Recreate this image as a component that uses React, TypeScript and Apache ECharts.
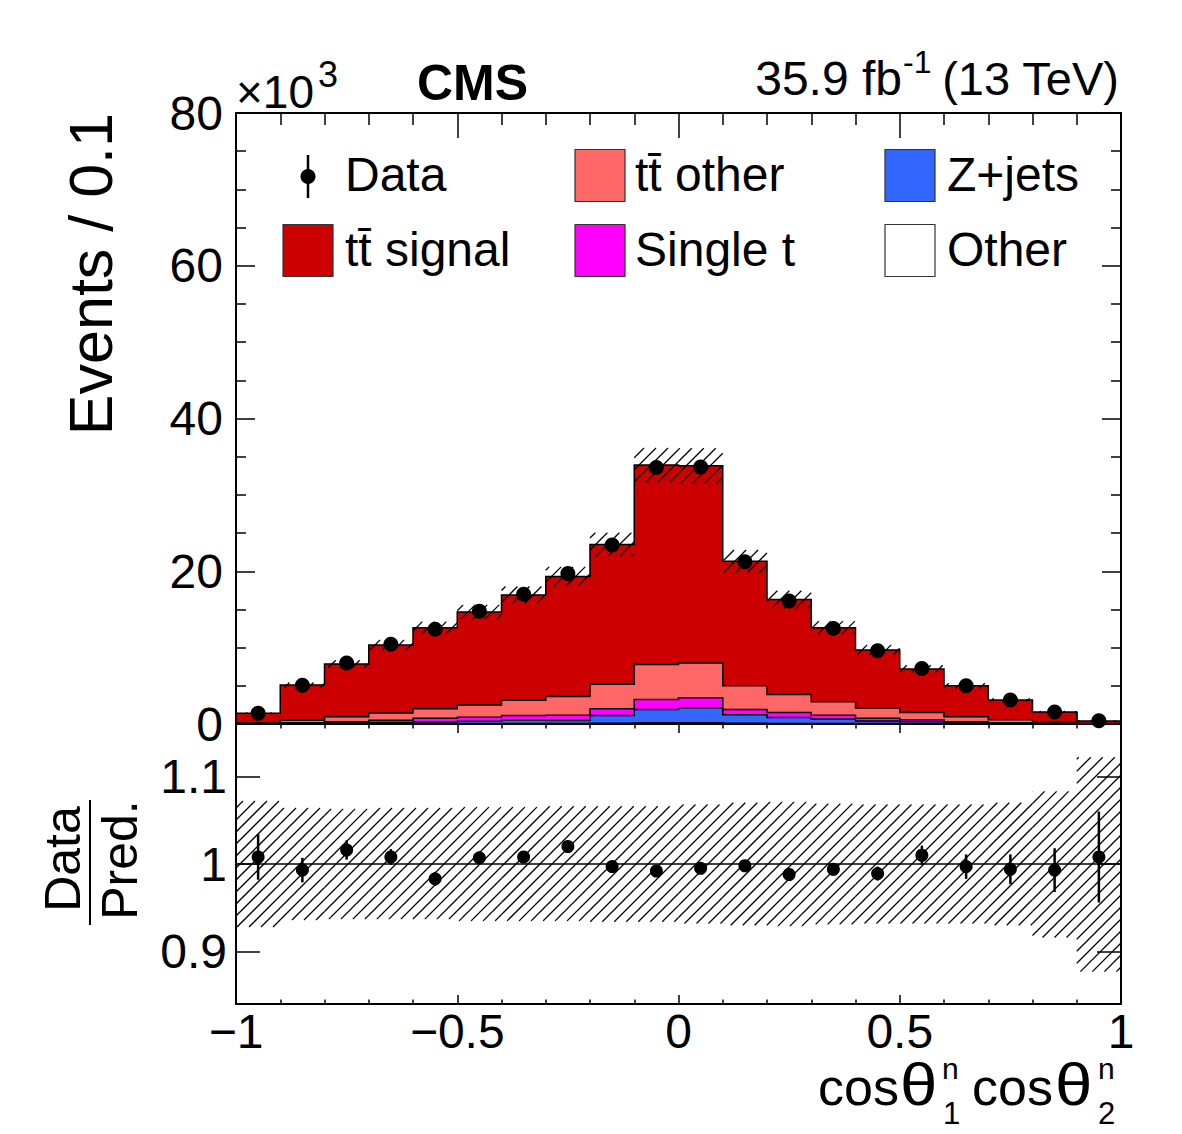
import { useEffect, useRef } from 'react';
import * as echarts from 'echarts';

const FONT = '"Liberation Sans", Arial, Helvetica, sans-serif';

// Bin edges of cos(theta1^n) cos(theta2^n)
const binEdges = [-1, -0.9, -0.8, -0.7, -0.6, -0.5, -0.4, -0.3, -0.2, -0.1, 0, 0.1, 0.2, 0.3, 0.4, 0.5, 0.6, 0.7, 0.8, 0.9, 1];
const binCenters = [-0.95, -0.85, -0.75, -0.65, -0.55, -0.45, -0.35, -0.25, -0.15, -0.05, 0.05, 0.15, 0.25, 0.35, 0.45, 0.55, 0.65, 0.75, 0.85, 0.95];

// Events / 0.1 in units of 10^3
const otherBkg = [0.01, 0.02, 0.03, 0.04, 0.05, 0.06, 0.07, 0.07, 0.1, 0.15, 0.15, 0.1, 0.07, 0.06, 0.05, 0.04, 0.03, 0.02, 0.01, 0.005];
const zJets = [0.02, 0.08, 0.12, 0.16, 0.2, 0.29, 0.43, 0.38, 1.0, 1.75, 1.95, 1.1, 0.78, 0.59, 0.35, 0.26, 0.12, 0.06, 0.03, 0.005];
const singleTop = [0.02, 0.08, 0.15, 0.3, 0.5, 0.55, 0.6, 0.7, 0.9, 1.3, 1.35, 0.7, 0.65, 0.5, 0.35, 0.25, 0.15, 0.1, 0.04, 0.01];
const ttOther = [0.07, 0.32, 0.65, 0.95, 1.25, 1.6, 2.0, 2.45, 3.2, 4.6, 4.55, 3.1, 2.35, 1.75, 1.35, 0.95, 0.65, 0.37, 0.17, 0.03];
const ttSignal = [1.28, 4.6, 6.9, 8.9, 10.6, 12.15, 13.8, 15.7, 18.3, 26.1, 25.8, 16.3, 12.45, 9.7, 7.6, 5.7, 4.05, 2.6, 1.32, 0.35];
const dataEvents = [1.42, 5.07, 7.98, 10.43, 12.4, 14.75, 17.0, 19.7, 23.45, 33.6, 33.65, 21.25, 16.1, 12.52, 9.6, 7.27, 5.0, 3.13, 1.56, 0.41];

// Ratio panel
const ratioValues = [1.008, 0.993, 1.016, 1.008, 0.983, 1.007, 1.008, 1.020, 0.997, 0.992, 0.995, 0.998, 0.988, 0.994, 0.989, 1.010, 0.997, 0.994, 0.993, 1.008];
const ratioErrors = [0.026, 0.014, 0.011, 0.009, 0.008, 0.007, 0.007, 0.006, 0.006, 0.005, 0.005, 0.006, 0.007, 0.007, 0.008, 0.011, 0.014, 0.017, 0.025, 0.052];
const uncUp = [1.072, 1.064, 1.063, 1.064, 1.064, 1.065, 1.065, 1.066, 1.066, 1.066, 1.068, 1.070, 1.071, 1.069, 1.068, 1.068, 1.068, 1.070, 1.083, 1.122];
const uncDown = [0.928, 0.936, 0.937, 0.937, 0.937, 0.935, 0.935, 0.935, 0.934, 0.934, 0.932, 0.930, 0.929, 0.931, 0.932, 0.932, 0.932, 0.930, 0.916, 0.877];

const mainYTicks = { min: 0, max: 80, interval: 20 };
const ratioYTicks = [0.9, 1, 1.1];

const COLORS = {
  signal: '#cc0000',
  ttOther: '#ff6666',
  singleT: '#ff00ff',
  zJets: '#3366ff',
  other: '#ffffff',
};

function hatchLines(L: number, T: number, R: number, B: number, spacing: number, style: any) {
  const children: any[] = [];
  const start = Math.ceil((L + T) / spacing) * spacing;
  for (let c = start; c <= R + B; c += spacing) {
    const xa = Math.max(L, c - B);
    const xb = Math.min(R, c - T);
    if (xb > xa) {
      children.push({ type: 'line', shape: { x1: xa, y1: c - xa, x2: xb, y2: c - xb }, style });
    }
  }
  return children;
}

export default function App() {
  const ref = useRef<HTMLDivElement>(null);

  useEffect(() => {
    if (!ref.current) return;
    const chart = echarts.init(ref.current, null, { renderer: 'svg' });
    const n = binCenters.length;

    const cumOther = otherBkg.slice();
    const cumZ = cumOther.map((v, i) => v + zJets[i]);
    const cumST = cumZ.map((v, i) => v + singleTop[i]);
    const cumTTO = cumST.map((v, i) => v + ttOther[i]);
    const total = cumTTO.map((v, i) => v + ttSignal[i]);

    const stackLevels = [
      { name: 'tt signal', cum: total, color: COLORS.signal, z: 2 },
      { name: 'tt other', cum: cumTTO, color: COLORS.ttOther, z: 3 },
      { name: 'Single t', cum: cumST, color: COLORS.singleT, z: 4 },
      { name: 'Z+jets', cum: cumZ, color: COLORS.zJets, z: 5 },
      { name: 'Other', cum: cumOther, color: COLORS.other, z: 6 },
    ];

    const stackSeries = stackLevels.map((lvl) => ({
      type: 'custom',
      name: lvl.name,
      xAxisIndex: 0,
      yAxisIndex: 0,
      z: lvl.z,
      clip: false,
      silent: true,
      data: [[0, 0]],
      renderItem: (_params: any, api: any) => {
        const pts: number[][] = [];
        pts.push(api.coord([binEdges[0], 0]));
        for (let i = 0; i < n; i++) {
          pts.push(api.coord([binEdges[i], lvl.cum[i]]));
          pts.push(api.coord([binEdges[i + 1], lvl.cum[i]]));
        }
        pts.push(api.coord([binEdges[n], 0]));
        return {
          type: 'polygon',
          shape: { points: pts },
          style: { fill: lvl.color, stroke: '#000', lineWidth: 1.5 },
        };
      },
    }));

    const hatchStyle = { stroke: '#000', lineWidth: 1.3 };

    const mainBand = {
      type: 'custom',
      name: 'Uncertainty',
      xAxisIndex: 0,
      yAxisIndex: 0,
      z: 8,
      silent: true,
      data: binCenters.map((c, i) => [c, total[i]]),
      renderItem: (params: any, api: any) => {
        const i = params.dataIndex;
        const p1 = api.coord([binEdges[i], total[i] * uncUp[i]]);
        const p2 = api.coord([binEdges[i + 1], total[i] * uncDown[i]]);
        return { type: 'group', children: hatchLines(p1[0], p1[1], p2[0], p2[1], 12, hatchStyle) };
      },
    };

    const ratioBand = {
      type: 'custom',
      name: 'Ratio uncertainty',
      xAxisIndex: 2,
      yAxisIndex: 2,
      z: 3,
      silent: true,
      data: binCenters.map((c) => [c, 1]),
      renderItem: (params: any, api: any) => {
        const i = params.dataIndex;
        const p1 = api.coord([binEdges[i], uncUp[i]]);
        const p2 = api.coord([binEdges[i + 1], uncDown[i]]);
        return { type: 'group', children: hatchLines(p1[0], p1[1], p2[0], p2[1], 12, hatchStyle) };
      },
    };

    const unityLine = {
      type: 'custom',
      name: 'Unity',
      xAxisIndex: 2,
      yAxisIndex: 2,
      z: 4,
      silent: true,
      data: [[0, 1]],
      renderItem: (_params: any, api: any) => {
        const a = api.coord([binEdges[0], 1]);
        const b = api.coord([binEdges[n], 1]);
        return { type: 'line', shape: { x1: a[0], y1: a[1], x2: b[0], y2: b[1] }, style: { stroke: '#000', lineWidth: 1.3 } };
      },
    };

    const ratioErrSeries = {
      type: 'custom',
      name: 'Ratio errors',
      xAxisIndex: 2,
      yAxisIndex: 2,
      z: 5,
      silent: true,
      data: binCenters.map((c, i) => [c, ratioValues[i]]),
      renderItem: (params: any, api: any) => {
        const i = params.dataIndex;
        const a = api.coord([binCenters[i], ratioValues[i] + ratioErrors[i]]);
        const b = api.coord([binCenters[i], ratioValues[i] - ratioErrors[i]]);
        return { type: 'line', shape: { x1: a[0], y1: a[1], x2: b[0], y2: b[1] }, style: { stroke: '#000', lineWidth: 2.5 } };
      },
    };

    const tickLine = { color: '#000', width: 1.5 };
    const axisLine = { show: true, onZero: false, lineStyle: { color: '#000', width: 2 } };
    const labelStyle = { color: '#000', fontSize: 48, fontFamily: FONT };

    const xCommon = { type: 'value', min: -1, max: 1, interval: 0.5, splitLine: { show: false }, axisLine };

    const legendCols = [283, 575, 885];
    const legendTextX = [345, 635, 947];
    const legendRows = [175.5, 250.5];
    const legendBoxes = [
      { label: 'tt\u0304 other', color: COLORS.ttOther, col: 1, row: 0 },
      { label: 'Z+jets', color: COLORS.zJets, col: 2, row: 0 },
      { label: 'tt\u0304 signal', color: COLORS.signal, col: 0, row: 1 },
      { label: 'Single t', color: COLORS.singleT, col: 1, row: 1 },
      { label: 'Other', color: COLORS.other, col: 2, row: 1 },
    ];

    const graphics: any[] = [];
    // legend: Data entry
    graphics.push({ type: 'line', shape: { x1: 308, y1: 155, x2: 308, y2: 198 }, style: { stroke: '#000', lineWidth: 2.5 } });
    graphics.push({ type: 'circle', shape: { cx: 308, cy: 176.5, r: 7.5 }, style: { fill: '#000' } });
    graphics.push({ type: 'text', x: 345, y: 174, style: { text: 'Data', fontSize: 48, fontFamily: FONT, fill: '#000', align: 'left', verticalAlign: 'middle' } });
    legendBoxes.forEach((e) => {
      const cy = legendRows[e.row];
      graphics.push({ type: 'rect', shape: { x: legendCols[e.col], y: cy - 26, width: 50, height: 52 }, style: { fill: e.color, stroke: '#333', lineWidth: 1.2 } });
      graphics.push({ type: 'text', x: legendTextX[e.col], y: cy - 1.5, style: { text: e.label, fontSize: 48, fontFamily: FONT, fill: '#000', align: 'left', verticalAlign: 'middle' } });
    });

    // Top texts
    graphics.push({ type: 'text', x: 236, y: 91.5, style: { text: '\u00d710', fontSize: 46, fontFamily: FONT, fill: '#000', align: 'left', verticalAlign: 'middle' } });
    graphics.push({ type: 'text', x: 318, y: 74, style: { text: '3', fontSize: 36, fontFamily: FONT, fill: '#000', align: 'left', verticalAlign: 'middle' } });
    graphics.push({ type: 'text', x: 417, y: 82.5, style: { text: 'CMS', fontSize: 50, fontWeight: 'bold', fontFamily: FONT, fill: '#000', align: 'left', verticalAlign: 'middle' } });
    graphics.push({ type: 'text', x: 1119, y: 78, style: { text: '(13 TeV)', fontSize: 47, fontFamily: FONT, fill: '#000', align: 'right', verticalAlign: 'middle' } });
    graphics.push({ type: 'text', x: 903, y: 62, style: { text: '-1', fontSize: 32, fontFamily: FONT, fill: '#000', align: 'left', verticalAlign: 'middle' } });
    graphics.push({ type: 'text', x: 902, y: 78, style: { text: '35.9 fb', fontSize: 48, fontFamily: FONT, fill: '#000', align: 'right', verticalAlign: 'middle' } });

    // Y titles
    graphics.push({ type: 'text', x: 91, y: 113, rotation: Math.PI / 2, style: { text: 'Events / 0.1', fontSize: 61, fontFamily: FONT, fill: '#000', align: 'right', verticalAlign: 'middle' } });
    graphics.push({ type: 'text', x: 63, y: 859, rotation: Math.PI / 2, style: { text: 'Data', fontSize: 50, fontFamily: FONT, fill: '#000', align: 'center', verticalAlign: 'middle' } });
    graphics.push({ type: 'line', shape: { x1: 90, y1: 800, x2: 90, y2: 925 }, style: { stroke: '#000', lineWidth: 2 } });
    graphics.push({ type: 'text', x: 120, y: 860, rotation: Math.PI / 2, style: { text: 'Pred.', fontSize: 50, fontFamily: FONT, fill: '#000', align: 'center', verticalAlign: 'middle' } });

    // X title: cos(theta_1^n) cos(theta_2^n)
    const xt = (text: string, x: number, y: number, size: number, sx = 1) => ({ type: 'text', x, y, scaleX: sx, style: { text, fontSize: size, fontFamily: FONT, fill: '#000', align: 'left', verticalAlign: 'middle' } });
    graphics.push(xt('cos', 818, 1087, 52));
    graphics.push(xt('\u03b8', 900, 1084, 60, 1.12));
    graphics.push(xt('n', 942, 1068, 30));
    graphics.push(xt('1', 943, 1113, 31));
    graphics.push(xt('cos', 972, 1087, 52));
    graphics.push(xt('\u03b8', 1055, 1084, 60, 1.12));
    graphics.push(xt('n', 1098, 1068, 30));
    graphics.push(xt('2', 1098, 1113, 31));

    const option: any = {
      animation: false,
      backgroundColor: '#fff',
      textStyle: { fontFamily: FONT },
      legend: { show: false },
      grid: [
        { left: 236, top: 113, width: 885, height: 611 },
        { left: 236, top: 724, width: 885, height: 280 },
      ],
      xAxis: [
        { ...xCommon, gridIndex: 0, position: 'bottom', axisLabel: { show: false },
          axisTick: { inside: true, length: 25, lineStyle: tickLine }, minorTick: { show: true, splitNumber: 5, length: 12, lineStyle: tickLine } },
        { ...xCommon, gridIndex: 0, position: 'top', axisLabel: { show: false },
          axisTick: { inside: true, length: 25, lineStyle: tickLine }, minorTick: { show: true, splitNumber: 5, length: 12, lineStyle: tickLine } },
        { ...xCommon, gridIndex: 1, position: 'bottom',
          axisLabel: { ...labelStyle, margin: 3, formatter: (v: number) => (v < 0 ? '\u2212' + Math.abs(v) : String(v)) },
          axisTick: { inside: true, length: 9, lineStyle: tickLine }, minorTick: { show: true, splitNumber: 5, length: 4.5, lineStyle: tickLine } },
        { ...xCommon, gridIndex: 1, position: 'top', axisLabel: { show: false },
          axisTick: { inside: true, length: 9, lineStyle: tickLine }, minorTick: { show: true, splitNumber: 5, length: 4.5, lineStyle: tickLine } },
      ],
      yAxis: [
        { type: 'value', gridIndex: 0, position: 'left', ...mainYTicks, splitLine: { show: false }, axisLine,
          axisLabel: { ...labelStyle, margin: 13 },
          axisTick: { inside: true, length: 19, lineStyle: tickLine }, minorTick: { show: true, splitNumber: 4, length: 10, lineStyle: tickLine } },
        { type: 'value', gridIndex: 0, position: 'right', ...mainYTicks, splitLine: { show: false }, axisLine,
          axisLabel: { show: false },
          axisTick: { inside: true, length: 19, lineStyle: tickLine }, minorTick: { show: true, splitNumber: 4, length: 10, lineStyle: tickLine } },
        { type: 'value', gridIndex: 1, position: 'left', min: 0.84, max: 1.16, splitLine: { show: false }, axisLine,
          axisLabel: { ...labelStyle, margin: 9, customValues: ratioYTicks },
          axisTick: { inside: true, length: 24, lineStyle: tickLine, customValues: ratioYTicks } },
        { type: 'value', gridIndex: 1, position: 'right', min: 0.84, max: 1.16, splitLine: { show: false }, axisLine,
          axisLabel: { show: false },
          axisTick: { inside: true, length: 24, lineStyle: tickLine, customValues: ratioYTicks } },
      ],
      series: [
        ...stackSeries,
        mainBand,
        {
          type: 'scatter',
          name: 'Data',
          xAxisIndex: 0,
          yAxisIndex: 0,
          z: 10,
          symbol: 'circle',
          symbolSize: 15,
          itemStyle: { color: '#000', opacity: 1 },
          silent: true,
          data: binCenters.map((c, i) => [c, dataEvents[i]]),
        },
        ratioBand,
        unityLine,
        ratioErrSeries,
        {
          type: 'scatter',
          name: 'Data/Pred.',
          xAxisIndex: 2,
          yAxisIndex: 2,
          z: 10,
          symbol: 'circle',
          symbolSize: 13,
          itemStyle: { color: '#000', opacity: 1 },
          silent: true,
          data: binCenters.map((c, i) => [c, ratioValues[i]]),
        },
      ],
      graphic: graphics,
    };

    chart.setOption(option);
    return () => chart.dispose();
  }, []);

  return <div ref={ref} style={{ position: 'absolute', left: 0, top: 0, width: 1182, height: 1134, background: '#fff' }} />;
}
